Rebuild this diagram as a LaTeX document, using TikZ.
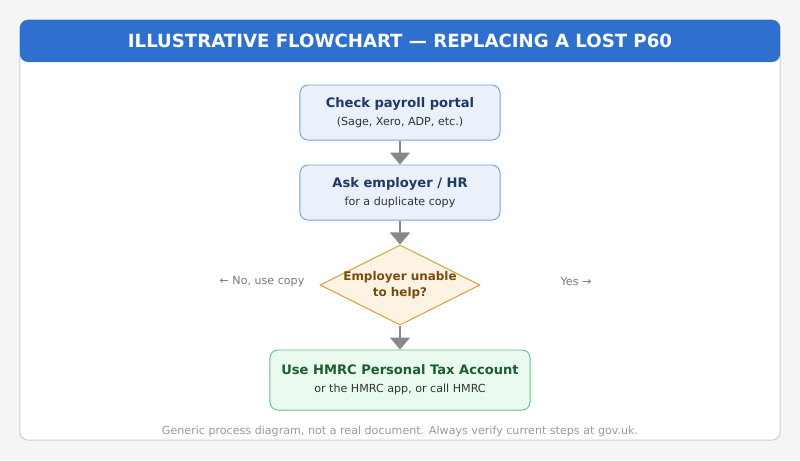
\documentclass[tikz,border=0pt]{standalone}
\usepackage{fontspec}
\setmainfont{DejaVu Sans}
\usepackage{xcolor}
\usetikzlibrary{arrows.meta,positioning,shapes.geometric}
\definecolor{page}{HTML}{F4F5F7}
\definecolor{cardline}{HTML}{C9CDD3}
\definecolor{headblue}{HTML}{2F6FCE}
\definecolor{stepfill}{HTML}{EAF1FB}
\definecolor{stepline}{HTML}{7D9FD9}
\definecolor{steptext}{HTML}{1F3864}
\definecolor{askfill}{HTML}{FDF3E3}
\definecolor{askline}{HTML}{D8A040}
\definecolor{asktext}{HTML}{7A4A0F}
\definecolor{endfill}{HTML}{EAFAEF}
\definecolor{endline}{HTML}{6CBF8A}
\definecolor{endtext}{HTML}{1E5C32}
\definecolor{subgray}{HTML}{333333}
\definecolor{notegray}{HTML}{777777}
\definecolor{footgray}{HTML}{9A9A9A}
\definecolor{arrgray}{HTML}{888888}
\newcommand\subtxt{\fontsize{7.9}{9}\selectfont\mdseries\color{subgray}}
\tikzset{
  box/.style={draw, rectangle, rounded corners=0.2cm, align=center, inner sep=0pt, line width=0.7pt},
  stepbox/.style={box, fill=stepfill, draw=stepline, text=steptext, minimum width=5cm, minimum height=1.375cm, font=\fontsize{9.3}{12.5}\selectfont\bfseries},
  endbox/.style={box, fill=endfill, draw=endline, text=endtext, minimum width=6.5cm, minimum height=1.5cm, font=\fontsize{9.3}{13}\selectfont\bfseries},
  decision/.style={draw=askline, fill=askfill, diamond, inner sep=0pt, minimum width=4cm, minimum height=2cm, line width=0.7pt},
  dlbl/.style={align=center, text=asktext, font=\fontsize{8.5}{11.5}\selectfont\bfseries},
  note/.style={text=notegray, font=\fontsize{7.9}{9}\selectfont, inner sep=0pt},
  arr/.style={-{Triangle[length=0.3cm, width=0.5cm]}, draw=arrgray, line width=1.1pt}
}
\begin{document}
\begin{tikzpicture}[x=0.025cm, y=-0.025cm]
\useasboundingbox (0,0) rectangle (800,460);
\fill[page] (0,0) rectangle (800,460);
\node[draw=cardline, fill=white, rounded corners=0.2cm, line width=0.7pt, minimum width=19cm, minimum height=10.5cm] (card) at (400,230) {};
\node[fill=headblue, rounded corners=0.2cm, minimum width=19cm, minimum height=1.05cm, text=white, font=\fontsize{12.9}{15}\selectfont\bfseries] (head) at (400,41) {ILLUSTRATIVE FLOWCHART — REPLACING A LOST P60};
% steps
\node[stepbox] (portal) at (400,112.5) {Check payroll portal\\\subtxt (Sage, Xero, ADP, etc.)};
\node[stepbox] (hr) at (400,192.5) {Ask employer / HR\\\subtxt for a duplicate copy};
\node[decision, label={[dlbl]center:Employer unable\\to help?}] (unable) at (400,285) {};
\node[endbox] (hmrc) at (400,380) {Use HMRC Personal Tax Account\\\subtxt or the HMRC app, or call HMRC};
\node[note] (lno) at (262,281.5) {← No, use copy};
\node[note] (lyes) at (576,281.5) {Yes →};
\node[note, text=footgray] (foot) at (400,431.5) {Generic process diagram, not a real document. Always verify current steps at gov.uk.};
\draw[arr] (portal) -- (hr);
\draw[arr] (hr) -- (unable);
\draw[arr] (unable) -- (hmrc);
\end{tikzpicture}
\end{document}
